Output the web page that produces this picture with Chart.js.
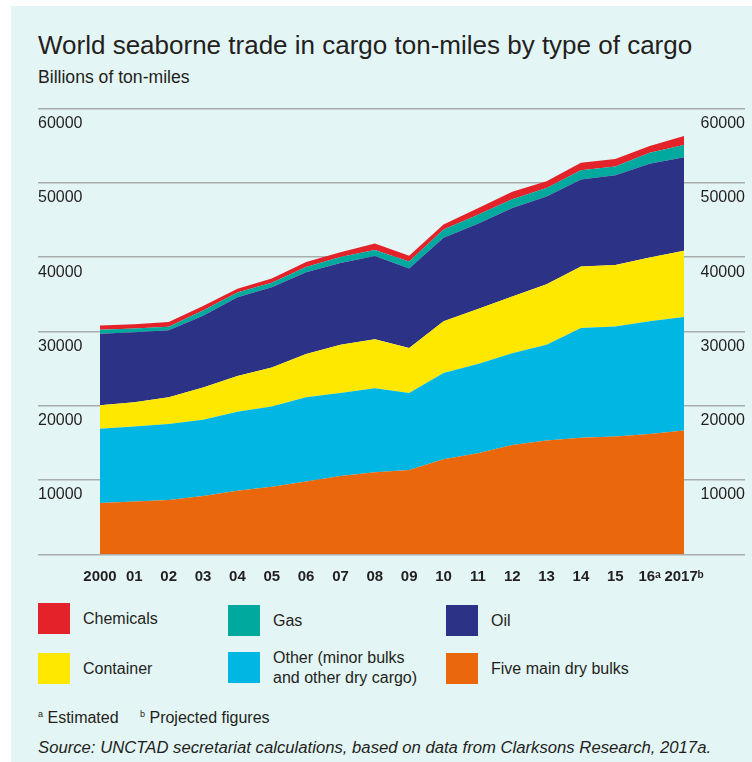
<!DOCTYPE html>
<html>
<head>
<meta charset="utf-8">
<title>World seaborne trade in cargo ton-miles</title>
<script src="https://cdn.jsdelivr.net/npm/chart.js@4.4.0/dist/chart.umd.min.js"></script>
<style>
  html, body { margin: 0; padding: 0; background: #fff; }
  body {
    width: 752px; height: 762px; position: relative; overflow: hidden;
    font-family: "Liberation Sans", Arial, Helvetica, sans-serif; color: #231f20;
  }
  #panel { position: absolute; left: 11px; top: 6px; right: 0; bottom: 0; background: #e3f5f5; }
  .txt { position: absolute; white-space: nowrap; }
  #title { left: 38px; top: 30px; font-size: 26px; }
  #subtitle { left: 38px; top: 67px; font-size: 17.6px; }
  #chartBox { position: absolute; left: 0; top: 95px; width: 752px; height: 500px; }
  .sw { position: absolute; width: 32px; height: 31px; }
  .lbl { position: absolute; font-size: 16px; line-height: 20px; }
  .note { font-size: 16px; }
  .note sup { font-size: 9px; vertical-align: 6px; }
  #source { left: 38px; top: 738px; font-size: 16.7px; font-style: italic; }
</style>
</head>
<body>
<div id="panel"></div>
<div class="txt" id="title">World seaborne trade in cargo ton-miles by type of cargo</div>
<div class="txt" id="subtitle">Billions of ton-miles</div>
<div id="chartBox"><canvas id="seaChart"></canvas></div>
<div id="legend"></div>
<div class="txt note" style="left:38px; top:709px;"><sup>a</sup> Estimated</div>
<div class="txt note" style="left:140px; top:709px;"><sup>b</sup> Projected figures</div>
<div class="txt" id="source">Source: UNCTAD secretariat calculations, based on data from Clarksons Research, 2017a.</div>

<script>
// years on the x axis (16 = estimated, 2017 = projected)
const years = ["2000", "01", "02", "03", "04", "05", "06", "07", "08", "09",
  "10", "11", "12", "13", "14", "15", "16\u1d43", "2017\u1d47"];

// billions of ton-miles, stacked bottom to top
const dryBulks  = [6900, 7100, 7300, 7850, 8550, 9100, 9800, 10550, 11050, 11350, 12800, 13600, 14700, 15300, 15700, 15850, 16200, 16650];
const otherDry  = [10000, 10100, 10250, 10250, 10650, 10800, 11350, 11150, 11300, 10350, 11600, 12000, 12350, 12900, 14750, 14800, 15150, 15300];
const container = [3150, 3250, 3600, 4350, 4800, 5250, 5800, 6500, 6600, 6050, 6950, 7400, 7650, 8150, 8300, 8300, 8600, 8900];
const oil       = [9650, 9450, 9000, 9650, 10600, 10800, 11000, 11000, 11200, 10700, 11250, 11500, 11900, 11800, 11700, 12050, 12600, 12600];
const gas       = [520, 500, 480, 700, 620, 600, 720, 800, 800, 950, 1100, 1200, 1200, 1150, 1250, 1200, 1500, 1650];
const chemicals = [570, 550, 650, 620, 520, 560, 680, 640, 880, 780, 700, 880, 1000, 900, 1000, 1000, 900, 1200];

const yTicks = [0, 10000, 20000, 30000, 40000, 50000, 60000];

const series = [
  { name: "Five main dry bulks", data: dryBulks, color: "#ea670b" },
  { name: "Other (minor bulks<br>and other dry cargo)", data: otherDry, color: "#00b6e3" },
  { name: "Container", data: container, color: "#ffe800" },
  { name: "Oil", data: oil, color: "#2c3286" },
  { name: "Gas", data: gas, color: "#00a99e" },
  { name: "Chemicals", data: chemicals, color: "#e4222a" }
];

const gridColor = "#a9adad";
const tickFont = { family: "'Liberation Sans', Arial, sans-serif", size: 16 };

const datasets = series.map((s, i) => ({
  label: s.name,
  data: s.data,
  backgroundColor: s.color,
  borderWidth: 0,
  pointRadius: 0,
  tension: 0,
  fill: i === 0 ? "origin" : "-1"
}));

function yLabel(value) {
  return value === 0 ? "" : String(value);
}

const chart = new Chart(document.getElementById("seaChart"), {
  type: "line",
  data: { labels: years, datasets: datasets },
  options: {
    responsive: true,
    maintainAspectRatio: false,
    animation: false,
    layout: { padding: { left: 38, right: 7, top: 13.5, bottom: 4.7 } },
    plugins: { legend: { display: false }, tooltip: { enabled: false } },
    scales: {
      x: {
        grid: { display: false, drawTicks: false },
        border: { display: false },
        ticks: {
          autoSkip: false, maxRotation: 0, padding: 14, color: "#231f20",
          font: { family: tickFont.family, size: 15, weight: "bold" }
        },
        afterFit: (scale) => { scale.height = 36; }
      },
      y: {
        position: "left",
        stacked: true,
        min: 0, max: 60000,
        afterBuildTicks: (scale) => { scale.ticks = yTicks.map(v => ({ value: v })); },
        grid: { color: gridColor, lineWidth: 1.5, tickLength: 62, tickColor: gridColor },
        border: { display: false },
        ticks: { crossAlign: "far", labelOffset: 15, color: "#231f20", font: tickFont, callback: yLabel },
        afterFit: (scale) => { scale.width = 62; }
      },
      y2: {
        position: "right",
        min: 0, max: 60000,
        afterBuildTicks: (scale) => { scale.ticks = yTicks.map(v => ({ value: v })); },
        grid: { drawOnChartArea: false, color: gridColor, lineWidth: 1.5, tickLength: 61, tickColor: gridColor },
        border: { display: false },
        ticks: { crossAlign: "far", labelOffset: 15, color: "#231f20", font: tickFont, callback: yLabel },
        afterFit: (scale) => { scale.width = 61; }
      }
    }
  }
});

// legend laid out in two rows of three
const legendSpots = [
  { s: 5, x: 38, y: 603 }, { s: 4, x: 228, y: 605 }, { s: 3, x: 446, y: 605 },
  { s: 2, x: 38, y: 653 }, { s: 1, x: 228, y: 652 }, { s: 0, x: 446, y: 653 }
];
const legend = document.getElementById("legend");
legendSpots.forEach(p => {
  const s = series[p.s];
  const sw = document.createElement("div");
  sw.className = "sw";
  sw.style.left = p.x + "px";
  sw.style.top = p.y + "px";
  sw.style.background = s.color;
  legend.appendChild(sw);
  const lb = document.createElement("div");
  lb.className = "lbl";
  lb.innerHTML = s.name;
  lb.style.left = (p.x + 45) + "px";
  const lines = s.name.split("<br>").length;
  lb.style.top = (p.y + 15.5 - lines * 10) + "px";
  legend.appendChild(lb);
});
</script>
</body>
</html>
